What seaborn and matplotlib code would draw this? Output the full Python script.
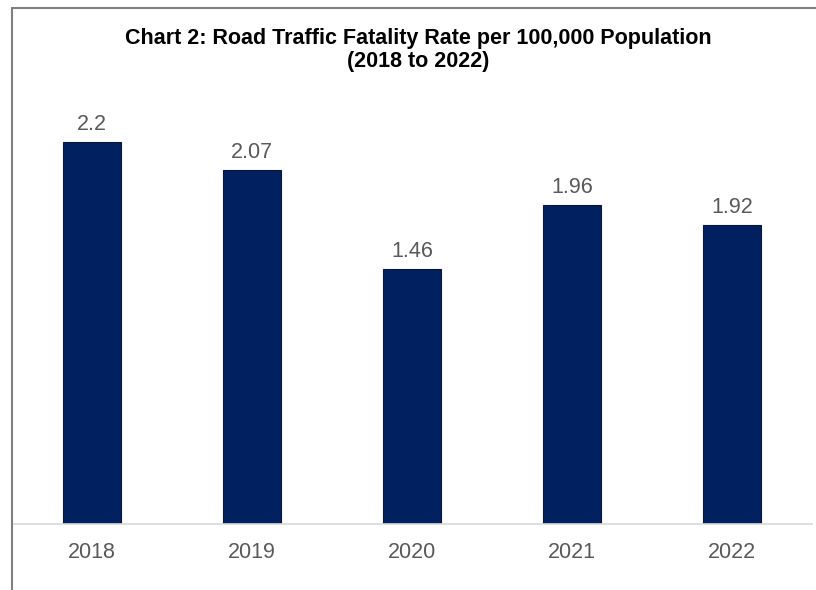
import pandas as pd
import seaborn as sns
import matplotlib.pyplot as plt
from matplotlib.lines import Line2D

years = ['2018', '2019', '2020', '2021', '2022']
# bar heights as drawn in the source chart (axis 0 to 2.5)
bar_heights = [2.2, 2.04, 1.47, 1.84, 1.725]
# data labels printed above the bars
rate_labels = ['2.2', '2.07', '1.46', '1.96', '1.92']

df = pd.DataFrame({'year': years, 'rate': bar_heights})

sns.set_style('white')
plt.rcParams['font.family'] = ['Liberation Sans', 'DejaVu Sans']

fig = plt.figure(figsize=(8.16, 5.9), dpi=100)
ax = fig.add_axes([12 / 816, 66 / 590, 800 / 816, 434 / 590])

sns.barplot(data=df, x='year', y='rate', color='#002060', width=0.3625,
            edgecolor='#0b1733', linewidth=0.8, saturation=1, ax=ax)

for i, (v, lab) in enumerate(zip(bar_heights, rate_labels)):
    ax.annotate(lab, (i, v), xytext=(0, 5), textcoords='offset points',
                ha='center', va='bottom', fontsize=15.5, color='#595959')

ax.set_xlim(-0.5, 4.5)
ax.set_ylim(0, 2.5)
ax.set_xlabel('')
ax.set_ylabel('')
ax.set_yticks([])
ax.tick_params(axis='x', length=0, labelsize=15.5, labelcolor='#595959', pad=13)
for side in ['top', 'right', 'left']:
    ax.spines[side].set_visible(False)
ax.spines['bottom'].set_color('#d9d9d9')
ax.spines['bottom'].set_linewidth(1.2)

fig.text(418 / 816, 1 - 50 / 590,
         'Chart 2: Road Traffic Fatality Rate per 100,000 Population\n(2018 to 2022)',
         ha='center', va='center', fontsize=15.5, fontweight='bold', color='black',
         linespacing=1.1)

# outer frame (left and top edges of the chart box)
fig.add_artist(Line2D([11.5 / 816, 11.5 / 816], [0, 1 - 8 / 590], transform=fig.transFigure,
                      color='#7f7f7f', linewidth=1.5))
fig.add_artist(Line2D([11.5 / 816, 1], [1 - 8 / 590, 1 - 8 / 590], transform=fig.transFigure,
                      color='#7f7f7f', linewidth=1.5))

fig.savefig('out.png', dpi=100)
